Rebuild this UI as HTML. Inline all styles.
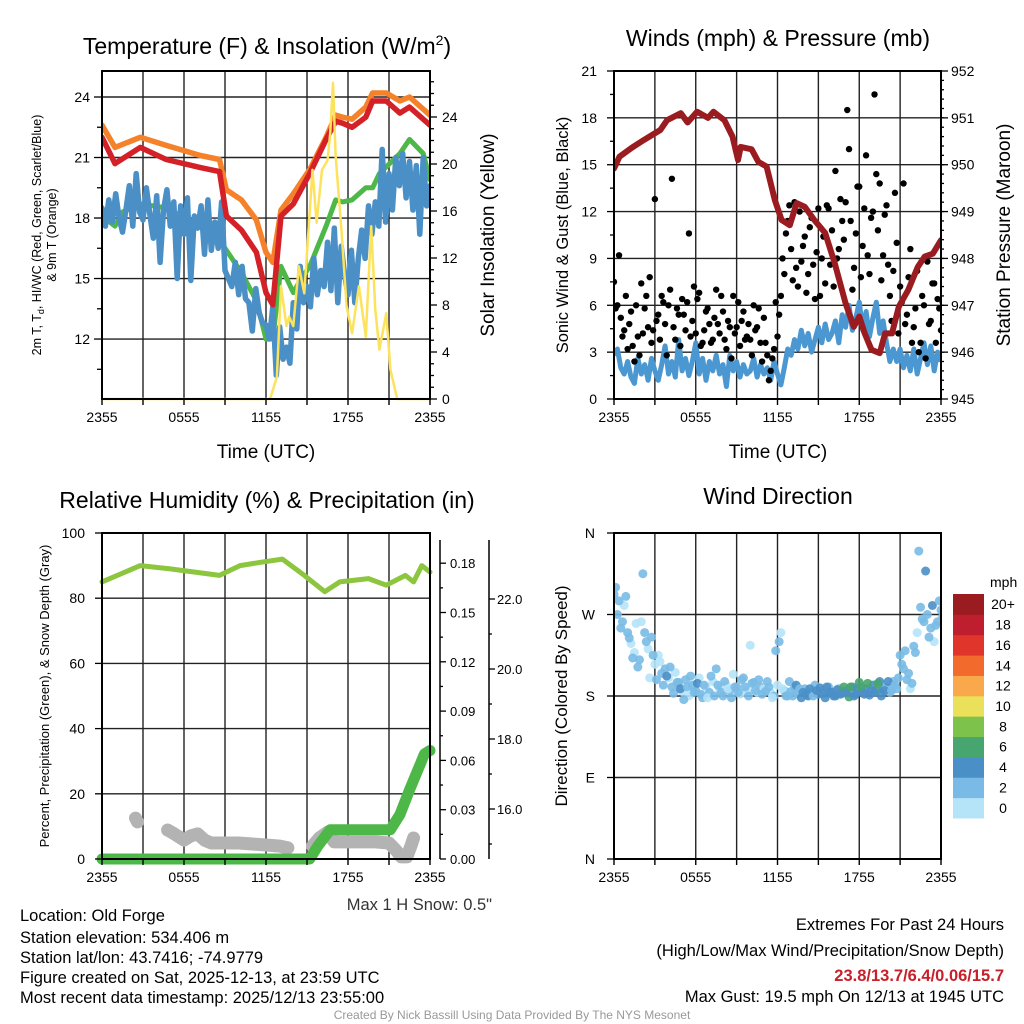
<!DOCTYPE html>
<html><head><meta charset="utf-8"><style>
html,body{margin:0;padding:0;background:#fff}
svg{display:block;font-family:"Liberation Sans",sans-serif}
</style></head><body>
<svg id="s" width="1024" height="1024" viewBox="0 0 1024 1024" xmlns="http://www.w3.org/2000/svg">
<g id="titles">
<text x="267" y="54" font-size="23" text-anchor="middle">Temperature (F) &amp; Insolation (W/m<tspan font-size="14" dy="-9">2</tspan><tspan dy="9">)</tspan></text>
<text x="778" y="46" font-size="23" text-anchor="middle">Winds (mph) &amp; Pressure (mb)</text>
<text x="267" y="508" font-size="23" text-anchor="middle">Relative Humidity (%) &amp; Precipitation (in)</text>
<text x="778" y="504" font-size="23" text-anchor="middle">Wind Direction</text>
<text x="266" y="458" font-size="19" text-anchor="middle">Time (UTC)</text>
<text x="778" y="458" font-size="19" text-anchor="middle">Time (UTC)</text>
<text transform="translate(41,235) rotate(-90)" font-size="12.5" text-anchor="middle">2m T, T<tspan font-size="9" dy="3">d</tspan><tspan dy="-3">, HI/WC (Red, Green, Scarlet/Blue)</tspan></text>
<text transform="translate(56,235) rotate(-90)" font-size="12.5" text-anchor="middle">&amp; 9m T (Orange)</text>
<text transform="translate(494,235) rotate(-90)" font-size="19" text-anchor="middle">Solar Insolation (Yellow)</text>
<text transform="translate(568,235) rotate(-90)" font-size="16.5" text-anchor="middle">Sonic Wind &amp; Gust (Blue, Black)</text>
<text transform="translate(1010,235) rotate(-90)" font-size="19" text-anchor="middle">Station Pressure (Maroon)</text>
<text transform="translate(49,696) rotate(-90)" font-size="13" text-anchor="middle">Percent, Precipitation (Green), &amp; Snow Depth (Gray)</text>
<text transform="translate(567,696) rotate(-90)" font-size="17" text-anchor="middle">Direction (Colored By Speed)</text>
<text x="492" y="910" font-size="16.5" fill="#333" text-anchor="end">Max 1 H Snow: 0.5"</text>
<g font-size="16.5">
<text x="20" y="921">Location: Old Forge</text>
<text x="20" y="943">Station elevation: 534.406 m</text>
<text x="20" y="963">Station lat/lon: 43.7416; -74.9779</text>
<text x="20" y="983">Figure created on Sat, 2025-12-13, at 23:59 UTC</text>
<text x="20" y="1003">Most recent data timestamp: 2025/12/13 23:55:00</text>
</g>
<g font-size="16.5" text-anchor="end">
<text x="1004" y="930">Extremes For Past 24 Hours</text>
<text x="1004" y="956">(High/Low/Max Wind/Precipitation/Snow Depth)</text>
<text x="1004" y="981" fill="#c8202a" font-weight="bold">23.8/13.7/6.4/0.06/15.7</text>
<text x="1004" y="1002">Max Gust: 19.5 mph On 12/13 at 1945 UTC</text>
</g>
<text x="512" y="1019" font-size="12" fill="#999" text-anchor="middle">Created By Nick Bassill Using Data Provided By The NYS Mesonet</text>
</g>
</svg>
<script>
// ---- data ----
const tRed=[0,0.95,2.8,4.7,7.2,8.6,9.1,10.2,11.3,12.0,12.5,13.1,14.0,15.2,16.4,17.1,17.6,18.3,19.3,19.8,20.8,21.8,22.5,24];
const tempRed=[22.0,20.7,21.5,20.9,20.5,20.3,18.1,17.4,16.3,14.3,13.7,18.1,18.7,20.2,21.9,22.8,22.7,22.5,23.0,23.8,23.8,23.2,23.5,22.6];
const tempOrange=[22.6,21.5,22.0,21.6,21.1,20.9,19.4,18.9,17.9,16.3,15.8,18.4,19.2,20.4,22.0,23.1,23.0,22.9,23.5,24.2,24.2,23.8,24.0,23.1];
const tGreen=[0,0.95,1.5,2.8,4.7,7.2,8.6,9.1,10.2,11.3,12.0,12.5,13.1,14,14.5,15.2,16.4,17.1,17.6,18.3,19.3,19.8,20.3,21.8,22.5,23.5,24];
const dewGreen=[18.1,17.6,18.3,18.7,18.5,17.6,16.9,16.4,15.3,13.9,12.0,12.0,15.6,14.3,14.9,15.6,17.6,18.9,18.8,18.9,19.5,19.5,20.2,21.2,21.9,21.2,19.9];
const windChill=[18.5,17.6,18.9,17.8,19.2,18.0,17.3,18.4,19.6,17.6,20.2,18.3,17.9,19.5,18.2,17.0,19.1,15.8,18.4,19.4,17.6,18.8,15.0,18.6,17.2,19.0,14.9,18.1,17.5,18.6,16.2,18.9,16.4,17.8,16.5,18.8,15.4,15.0,14.6,15.8,14.2,15.6,14.0,13.8,12.4,14.5,13.3,12.8,12.7,12.0,13.6,10.2,12.6,11.0,11.6,10.8,13.8,12.5,15.6,13.8,14.6,13.6,16.0,14.2,15.4,14.6,16.8,14.4,17.5,13.8,16.6,15.2,14.2,16.4,13.8,16.0,17.4,16.0,18.6,17.2,18.8,17.6,21.4,17.8,20.2,18.4,21.0,19.6,21.2,19.0,20.8,18.4,20.6,17.2,21.0,18.6,19.6];
const tSolar=[0,12.3,12.8,13.1,13.5,13.7,14.0,14.4,14.8,15.4,15.7,16.1,16.5,16.7,16.9,17.1,17.5,17.9,18.3,18.8,19.3,19.7,20.0,20.3,20.8,21.1,21.6,24];
const solar=[0,0,1.9,9.6,6.2,7.0,6.2,11.3,9.0,19.5,15.0,19.5,20.3,22.6,26.9,20.6,14.7,7.9,5.6,9.6,5.3,14.7,7.6,4.2,7.3,2.5,0,0];
const tPres=[0,0.4,1.3,2.2,3.4,3.9,4.9,5.4,6.1,6.9,7.3,8.1,8.7,9.1,9.3,10.1,10.6,11.2,11.8,12.3,12.9,13.4,14.0,14.7,15.5,16.2,17.0,17.6,18.0,18.4,18.9,19.5,19.9,20.4,20.9,21.6,22.3,22.8,23.4,24];
const pressure=[949.92,950.17,950.36,950.53,950.74,950.95,951.1,950.9,951.13,951.0,951.13,950.95,950.6,950.1,950.38,950.33,950.06,949.96,949.25,948.82,948.71,949.18,949.1,948.82,948.54,947.9,947.04,946.54,946.76,946.4,946.05,945.98,946.4,946.4,946.97,947.33,947.82,948.04,948.1,948.39];
const windSpd=[2.8,3.2,2.0,1.6,2.4,1.4,1.0,2.6,1.6,2.2,1.2,2.6,1.8,1.2,2.2,3.4,1.6,2.4,1.4,3.8,1.8,2.6,1.5,2.4,3.6,1.6,2.6,1.2,2.4,1.8,2.8,1.6,2.2,0.8,2.8,1.8,2.4,1.4,2.2,1.6,1.8,2.6,1.4,2.2,1.6,2.0,1.2,2.4,1.6,0.9,2.0,3.2,2.8,3.8,3.2,4.4,3.4,4.2,3.0,3.8,4.6,3.6,4.8,3.8,4.2,5.0,3.6,5.4,4.6,6.0,4.4,5.2,6.2,4.4,5.6,4.0,5.2,6.2,4.2,5.0,3.6,2.4,3.2,2.4,3.2,2.0,2.8,1.8,3.2,1.6,2.6,3.6,2.2,3.4,1.8,3.0,2.4];
const gustA=[7.5,6.0,5.2,4.4,3.2,5.6,2.4,4.0,7.4,5.8,4.6,3.6,12.8,5.4,6.6,4.8,6.0,14.1,3.8,5.4,6.4,4.4,10.6,5.0,4.2,6.8,3.6,5.6,4.8,3.8,7.0,4.2,5.6,3.2,4.6,6.6,4.6,3.4,5.6,4.0,3.8,6.0,4.6,3.6,5.2,2.8,1.8,3.2,4.0,6.6,8.0,11.4,9.6,12.6,7.2,8.8,10.4,8.0,11.6,6.4,12.2,9.0,7.4,12.2,10.8,14.6,9.6,11.4,12.6,16.0,7.0,10.6,13.6,9.8,15.6,8.0,12.0,14.4,13.8,9.2,12.4,6.6,8.2,10.0,7.2,13.8,5.4,9.6,4.6,8.2,3.6,6.0,8.8,5.0,7.4,6.4,4.4];
const gustB=[5.8,9.2,4.0,6.6,4.8,3.4,6.0,2.8,4.2,6.6,7.8,4.4,5.0,3.8,6.2,2.8,7.0,4.6,5.8,3.4,5.4,6.2,4.0,7.2,6.4,3.4,4.4,5.8,3.6,5.2,4.8,6.6,3.8,5.0,2.6,4.2,6.2,5.0,3.8,4.8,2.8,4.4,5.8,2.4,3.6,1.2,2.6,6.2,5.4,9.0,10.6,12.4,7.6,8.4,12.0,9.8,6.8,11.0,8.6,9.4,6.6,10.4,12.4,8.6,7.2,9.0,12.8,10.2,18.5,11.4,8.4,13.6,7.8,12.2,9.2,11.6,19.5,10.8,7.6,11.8,8.6,5.0,13.2,4.2,6.2,4.8,7.8,3.6,5.8,3.0,6.6,2.6,4.8,7.4,3.6,5.8,6.2];
const tRH=[0,2.8,5,8.6,10.1,11.6,13.2,14.8,16.3,17.4,19.5,20.8,22.2,22.8,23.4,24];
const rh=[85,90,89,87,90,91,92,87,82,85,86,84,87,85,90,88];
const tPrecip=[0,15.2,15.8,16.7,21.1,21.8,22.5,23.1,23.6,24];
const precip=[0,0,0.008,0.0178,0.0178,0.027,0.042,0.054,0.064,0.066];
const tSnow=[2.45,2.6,null,4.8,5.3,6.0,6.5,7.0,7.5,8,9,10,11,12,13,13.6,null,15.4,15.9,16.5,17,18,19,20,21,21.5,21.9,22.3,22.6,22.8];
const snow=[15.74,15.63,null,15.4,15.29,15.11,15.23,15.29,15.11,15.03,15.03,15.03,15.0,14.97,14.94,14.89,null,14.94,15.17,15.34,15.06,15.06,15.06,15.06,15.03,14.83,14.63,14.63,14.94,15.17];
const dirA=[292,270,255,280,250,238,228,212,262,250,232,245,215,225,205,210,200,190,206,195,185,198,180,192,186,200,178,190,184,196,210,188,180,192,186,204,190,182,200,186,236,195,184,190,188,196,184,180,192,250,186,180,185,190,182,178,188,180,184,192,182,186,178,190,184,180,188,183,186,179,190,182,195,184,188,181,192,186,196,188,190,184,196,188,225,210,198,188,235,250,278,262,270,255,240,262,275];
const dirB=[300,285,262,290,244,222,260,220,315,240,200,225,198,218,192,202,212,183,195,188,176,190,202,184,194,182,192,178,202,180,192,184,196,188,178,190,184,198,190,180,194,186,198,182,185,190,178,230,240,188,180,196,180,192,188,184,182,188,180,186,189,183,190,184,180,187,182,190,184,190,180,188,190,182,194,186,184,194,180,186,196,186,192,200,215,230,205,194,228,340,265,318,245,280,258,285,268];
const xLabels=["2355","0555","1155","1755","2355"];
const tempTicks=[12,15,18,21,24];
const solarTicks=[0,4,8,12,16,20,24];
const windTicks=[0,3,6,9,12,15,18,21];
const presTicks=[945,946,947,948,949,950,951,952];
const rhTicks=[0,20,40,60,80,100];
const precipTicks=["0.00","0.03","0.06","0.09","0.12","0.15","0.18"];
const snowTicks=["16.0","18.0","20.0","22.0"];
const dirLabels=["N","E","S","W","N"];
const cbLabels=["0","2","4","6","8","10","12","14","16","18","20+"];
const cbColors=["#b5e3f8","#79bbe6","#4a8fc6","#47a56f","#7dc24b","#ebe05a","#f9a94b","#f26a2c","#e0352b","#be1e2d","#9b1c20"];

// ---- helpers ----
const NS="http://www.w3.org/2000/svg";
const svg=document.getElementById('s');
function mk(tag,attrs,parent){const e=document.createElementNS(NS,tag);for(const k in attrs)e.setAttribute(k,attrs[k]);(parent||svg).appendChild(e);return e;}
function linePath(ts,vs,xf,yf){let d="",pen=false;for(let i=0;i<ts.length;i++){if(ts[i]===null||vs[i]===null){pen=false;continue;}d+=(pen?"L":"M")+xf(ts[i]).toFixed(1)+","+yf(vs[i]).toFixed(1);pen=true;}return d;}
function reg(n){return Array.from({length:n},(_,i)=>i*24/(n-1));}
function panelFrame(g,x0,x1,y0,y1,hy){
  for(let k=1;k<8;k++){const x=x0+k*(x1-x0)/8;const l=mk('line',{x1:x,x2:x,y1:y0,y2:y1,stroke:'#222','stroke-width':1.4},g);}
  hy.forEach(y=>{const l=mk('line',{x1:x0,x2:x1,y1:y,y2:y,stroke:'#222','stroke-width':1.4},g);});
}
function xAxis(g,x0,x1,y1){
  for(let k=0;k<=8;k++){const x=x0+k*(x1-x0)/8;const l=mk('line',{x1:x,x2:x,y1:y1,y2:y1+6,stroke:'#000','stroke-width':1.4},g);}
  xLabels.forEach((s,i)=>{const t=mk('text',{x:x0+i*(x1-x0)/4,y:y1+23,'font-size':14,'text-anchor':'middle'},g);t.textContent=s;});
}
function border(g,x0,x1,y0,y1){const r=mk('rect',{x:x0,y:y0,width:x1-x0,height:y1-y0,fill:'none',stroke:'#000','stroke-width':2},g);}
function tickL(g,x,y,len,label,fs,dx){const l=mk('line',{x1:x,x2:x+len,y1:y,y2:y,stroke:'#000','stroke-width':1.3},g);
  if(label!==null){const t=mk('text',{x:x+dx,y:y+5,'font-size':fs,'text-anchor':dx<0?'end':'start'},g);t.textContent=label;}}

// ---- Panel 1 ----
(function(){
 const x0=102,x1=430,y0=71,y1=399;
 const X=h=>x0+h*(x1-x0)/24, YL=v=>97+(24-v)*20.17, YR=v=>399-v*11.75;
 const g=mk('g',{});  
 panelFrame(g,x0,x1,y0,y1,tempTicks.map(YL));
 const cp=mk('clipPath',{id:'c1'},g); mk('rect',{x:x0,y:y0,width:x1-x0,height:y1-y0+3},cp);
 const s=mk('g',{'clip-path':'url(#c1)'},g);
 let p;
 p=mk('path',{d:linePath(tGreen,dewGreen,X,YL),fill:'none',stroke:'#4db848','stroke-width':5,'stroke-linejoin':'round','stroke-linecap':'round'},s);
 p=mk('path',{d:linePath(reg(windChill.length),windChill,X,YL),fill:'none',stroke:'#4a8fc6','stroke-width':5.5,'stroke-linejoin':'round','stroke-linecap':'round'},s);
 p=mk('path',{d:linePath(tRed,tempOrange,X,YL),fill:'none',stroke:'#f5822a','stroke-width':5.5,'stroke-linejoin':'round','stroke-linecap':'round'},s);
 p=mk('path',{d:linePath(tRed,tempRed,X,YL),fill:'none',stroke:'#d42027','stroke-width':5.5,'stroke-linejoin':'round','stroke-linecap':'round'},s);
 p=mk('path',{d:linePath(tSolar,solar,X,YR),fill:'none',stroke:'#fde25c','stroke-width':2.5,'stroke-linejoin':'round'},s);
 border(g,x0,x1,y0,y1);
 tempTicks.forEach(v=>tickL(g,x0-8,YL(v),8,String(v),14,-4));
 for(let v=10.5;v<25.5;v+=3)tickL(g,x0-5,YL(v),5,null);
 solarTicks.forEach(v=>tickL(g,x1,YR(v),7,String(v),14,12));
 for(let v=1;v<28;v++)if(v%4)tickL(g,x1,YR(v),4,null);
 xAxis(g,x0,x1,y1);
})();

// ---- Panel 2 ----
(function(){
 const x0=614,x1=941,y0=71,y1=399;
 const X=h=>x0+h*(x1-x0)/24, YL=v=>y1-v*(y1-y0)/21, YR=v=>y1-(v-945)*(y1-y0)/7;
 const g=mk('g',{});  
 panelFrame(g,x0,x1,y0,y1,windTicks.slice(1,-1).map(YL));
 const cp=mk('clipPath',{id:'c2'},g); mk('rect',{x:x0,y:y0,width:x1-x0,height:y1-y0},cp);
 const s=mk('g',{'clip-path':'url(#c2)'},g);
 let p=mk('path',{d:linePath(reg(windSpd.length),windSpd,X,YL),fill:'none',stroke:'#4a97d2','stroke-width':5,'stroke-linejoin':'round'},s);
 const tg=reg(gustA.length);
 [gustA,gustB].forEach(arr=>arr.forEach((v,i)=>{const c=mk('circle',{cx:X(tg[i]+(arr===gustB?0.12:0)),cy:YL(v),r:3.2,fill:'#000'},s);}));
 p=mk('path',{d:linePath(tPres,pressure,X,YR),fill:'none',stroke:'#9b1c20','stroke-width':6,'stroke-linejoin':'round','stroke-linecap':'round'},s);
 border(g,x0,x1,y0,y1);
 windTicks.forEach(v=>tickL(g,x0-7,YL(v),7,String(v),14,-10));
 for(let v=1.5;v<21;v+=3)tickL(g,x0-4,YL(v),4,null);
 presTicks.forEach(v=>tickL(g,x1,YR(v),7,String(v),14,10));
 for(let v=945.2;v<952;v+=0.2)tickL(g,x1,YR(v),3,null);
 xAxis(g,x0,x1,y1);
})();

// ---- Panel 3 ----
(function(){
 const x0=102,x1=430,y0=533,y1=859;
 const X=h=>x0+h*(x1-x0)/24, YL=v=>y1-v*3.26, YP=v=>y1-v/0.03*49.3, YS=v=>809-(v-16)*35;
 const g=mk('g',{});  
 panelFrame(g,x0,x1,y0,y1,rhTicks.slice(1,-1).map(YL));
 const cp=mk('clipPath',{id:'c3'},g); mk('rect',{x:x0-8,y:y0,width:x1-x0+16,height:y1-y0+10},cp);
 const s=mk('g',{'clip-path':'url(#c3)'},g);
 let p=mk('path',{d:linePath(tSnow,snow,X,YS),fill:'none',stroke:'#b3b3b3','stroke-width':13,'stroke-linejoin':'round','stroke-linecap':'round'},s);
 p=mk('path',{d:linePath(tPrecip,precip,X,YP),fill:'none',stroke:'#4db848','stroke-width':11,'stroke-linejoin':'round','stroke-linecap':'round'},s);
 p=mk('path',{d:linePath(tRH,rh,X,YL),fill:'none',stroke:'#8cc63f','stroke-width':5,'stroke-linejoin':'round','stroke-linecap':'round'},s);
 border(g,x0,x1,y0,y1);
 rhTicks.forEach(v=>tickL(g,x0-7,YL(v),7,String(v),14,-10));
 const ax=mk('line',{x1:440,x2:440,y1:540,y2:y1,stroke:'#000','stroke-width':1.5},g);
 precipTicks.forEach(v=>tickL(g,440,YP(parseFloat(v)),6,v,13,10));
 for(let v=0.015;v<0.19;v+=0.03)tickL(g,440,YP(v),3,null);
 const ax2=mk('line',{x1:489,x2:489,y1:540,y2:y1,stroke:'#000','stroke-width':1.5},g);
 snowTicks.forEach(v=>tickL(g,489,YS(parseFloat(v)),6,v,13,8));
 for(let v=15;v<23;v+=2)tickL(g,489,YS(v),3,null);
 xAxis(g,x0,x1,y1);
})();

// ---- Panel 4 ----
(function(){
 const x0=614,x1=941,y0=533,y1=859;
 const X=h=>x0+h*(x1-x0)/24, Y=d=>y1-d*(y1-y0)/360;
 const g=mk('g',{});  
 panelFrame(g,x0,x1,y0,y1,[90,180,270].map(Y));
 const cp=mk('clipPath',{id:'c4'},g); mk('rect',{x:x0,y:y0,width:x1-x0,height:y1-y0},cp);
 const s=mk('g',{'clip-path':'url(#c4)'},g);
 const tg=reg(dirA.length);
 const col=v=>cbColors[Math.min(10,Math.max(0,Math.floor(v/2)))];
 [dirA,dirB].forEach(arr=>arr.forEach((d,i)=>{const sp=windSpd[i]+(arr===dirB?0.6:0);const c=mk('circle',{cx:X(tg[i]+(arr===dirB?0.12:0)),cy:Y(d),r:4.5,fill:col(sp),'fill-opacity':0.9},s);}));
 border(g,x0,x1,y0,y1);
 dirLabels.forEach((l,i)=>tickL(g,x0-7,Y(i*90),7,l,14,-12));
 xAxis(g,x0,x1,y1);
 const cb=mk('g',{});  
 const bh=20.36, top=594;
 const mt=mk('text',{x:990,y:587,'font-size':14},cb);mt.textContent='mph';
 cbLabels.forEach((l,i)=>{const y=top+(10-i)*bh;
  const r=mk('rect',{x:953,y:y,width:31,height:bh+0.5,fill:cbColors[i]},cb);
  const t=mk('text',{x:1003,y:y+bh/2+5,'font-size':14,'text-anchor':'middle'},cb);t.textContent=l;});
})();
</script>
</body></html>
